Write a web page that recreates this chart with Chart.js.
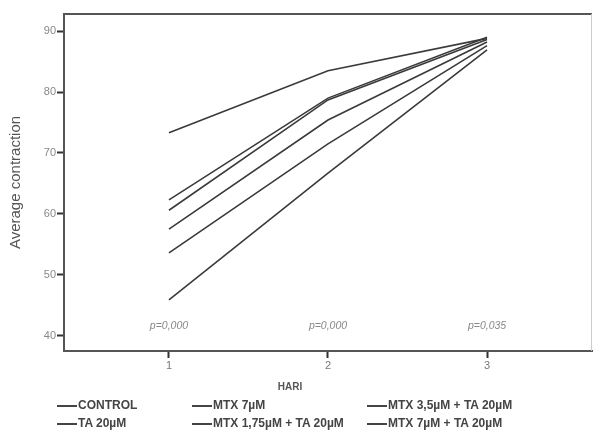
<!DOCTYPE html>
<html lang="en">
<head>
    <meta charset="UTF-8">
    <title>Average contraction per HARI</title>
    <script src="https://cdn.jsdelivr.net/npm/chart.js"></script>
    <style>
        body { margin: 0; background: #fff; font-family: "Liberation Sans", Arial, sans-serif; }
        .wrap { position: relative; width: 593px; height: 432px; }
        #hari { position: absolute; left: 265px; top: 381px; width: 50px; text-align: center;
                font-size: 10px; font-weight: bold; color: #555; }
        .leg { position: absolute; font-size: 12px; font-weight: bold; color: #444; white-space: nowrap; }
        .leg span { display: inline-block; width: 20px; height: 0; border-top: 2px solid #444;
                    vertical-align: middle; margin-right: 1px; }
    </style>
</head>
<body>
<div class="wrap">
    <canvas id="chart" width="593" height="432"></canvas>
    <div id="hari">HARI</div>
    <div id="legend"></div>
</div>
<script>
    // data
    const days = [1, 2, 3];
    const seriesNames = ['CONTROL', 'MTX 7µM', 'MTX 3,5µM + TA 20µM', 'TA 20µM', 'MTX 1,75µM + TA 20µM', 'MTX 7µM + TA 20µM'];
    const control = [73.3, 83.5, 88.8];
    const mtx7 = [45.9, 66.7, 86.9];
    const mtx35ta = [60.6, 78.7, 88.6];
    const ta20 = [62.3, 79.0, 89.0];
    const mtx175ta = [57.5, 75.4, 88.2];
    const mtx7ta = [53.6, 71.5, 87.6];
    const pLabels = ['p=0,000', 'p=0,000', 'p=0,035'];
    const yTicks = [40, 50, 60, 70, 80, 90];

    const allSeries = [control, mtx7, mtx35ta, ta20, mtx175ta, mtx7ta];

    const datasets = allSeries.map((vals, i) => ({
        label: seriesNames[i],
        data: vals.map((v, j) => ({ x: days[j], y: v })),
        borderColor: '#3a3a3a',
        borderWidth: 1.6,
        pointRadius: 0,
        tension: 0,
        fill: false
    }));

    // frame + p-values
    const extras = {
        id: 'extras',
        afterDraw(chart) {
            const { ctx, chartArea: a, scales } = chart;
            ctx.save();
            ctx.strokeStyle = '#555';
            ctx.lineWidth = 2;
            ctx.beginPath();
            ctx.moveTo(a.left, a.top);
            ctx.lineTo(a.right, a.top);
            ctx.stroke();
            ctx.strokeStyle = '#ccc';
            ctx.lineWidth = 1;
            ctx.beginPath();
            ctx.moveTo(a.right - 0.5, a.top);
            ctx.lineTo(a.right - 0.5, a.bottom);
            ctx.stroke();
            ctx.fillStyle = '#888';
            ctx.font = 'italic 10.5px "Liberation Sans", Arial, sans-serif';
            ctx.textAlign = 'center';
            ctx.textBaseline = 'middle';
            days.forEach((d, i) => {
                ctx.fillText(pLabels[i], scales.x.getPixelForValue(d), scales.y.getPixelForValue(41.6));
            });
            ctx.restore();
        }
    };

    new Chart(document.getElementById('chart'), {
        type: 'line',
        data: { datasets },
        options: {
            responsive: false,
            animation: false,
            layout: { padding: { top: 14, right: 1, left: 0, bottom: 0 } },
            plugins: { legend: { display: false }, tooltip: { enabled: false } },
            scales: {
                x: {
                    type: 'linear',
                    min: 0.34,
                    max: 3.66,
                    afterBuildTicks: s => { s.ticks = days.map(v => ({ value: v })); },
                    afterFit: s => { s.height = 81; },
                    ticks: { color: '#777', font: { size: 11, family: '"Liberation Sans", Arial' }, padding: 1 },
                    grid: { drawOnChartArea: false, color: '#333', tickLength: 7, tickWidth: 2 },
                    border: { color: '#555', width: 2 }
                },
                y: {
                    min: 37.5,
                    max: 92.8,
                    afterBuildTicks: s => { s.ticks = yTicks.map(v => ({ value: v })); },
                    afterFit: s => { s.width = 64; },
                    ticks: { color: '#888', font: { size: 11, family: '"Liberation Sans", Arial' }, padding: 1 },
                    grid: { drawOnChartArea: false, color: '#333', tickLength: 7, tickWidth: 2 },
                    border: { color: '#555', width: 2 },
                    title: { display: true, text: 'Average contraction', color: '#555',
                             font: { size: 15, family: '"Liberation Sans", Arial' }, padding: { top: 7, bottom: 4 } }
                }
            }
        },
        plugins: [extras]
    });

    // legend laid out as in the figure: 3 columns, 2 rows
    const colX = [57, 192, 367];
    const rowY = [398, 416];
    const legend = document.getElementById('legend');
    seriesNames.forEach((name, i) => {
        const d = document.createElement('div');
        d.className = 'leg';
        d.style.left = colX[i % 3] + 'px';
        d.style.top = rowY[Math.floor(i / 3)] + 'px';
        d.innerHTML = '<span></span>' + name;
        legend.appendChild(d);
    });
</script>
</body>
</html>
